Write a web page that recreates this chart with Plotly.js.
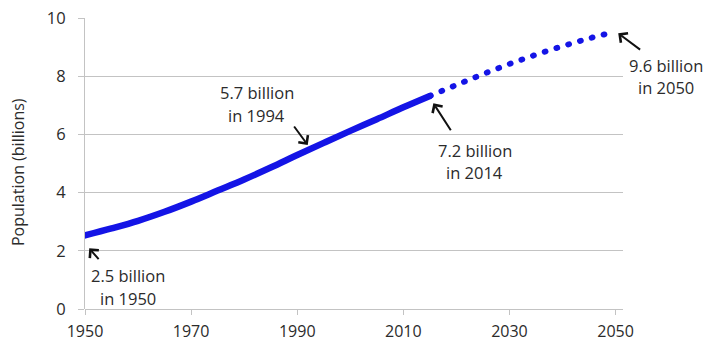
<!DOCTYPE html>
<html>
<head>
<meta charset="utf-8">
<script src="https://cdn.plot.ly/plotly-3.0.1.min.js"></script>
<style>
  html, body { margin: 0; padding: 0; background: #fff; }
  #chart { width: 710px; height: 341px; }
  .scatterlayer .js-line { stroke-linecap: round; }
</style>
</head>
<body>
<div id="chart"></div>
<script>
// Estimated world population (billions)
var historyYears = [1950, 1955, 1960, 1965, 1970, 1975, 1980, 1985, 1990, 1995, 2000, 2005, 2010, 2015];
var historyPop   = [2.53, 2.77, 3.03, 3.34, 3.69, 4.07, 4.45, 4.86, 5.29, 5.71, 6.12, 6.52, 6.93, 7.32];
// Projection (billions)
var projYears = [2015, 2020, 2025, 2030, 2035, 2040, 2045, 2050];
var projPop   = [7.32, 7.70, 8.07, 8.42, 8.74, 9.03, 9.30, 9.53];

var xTicks = [1950, 1970, 1990, 2010, 2030, 2050];
var yTicks = [0, 2, 4, 6, 8, 10];

var yTitle = 'Population (billions)';
var calloutLines = [
  ["2.5 billion", "in 1950"],
  ["5.7 billion", "in 1994"],
  ["7.2 billion", "in 2014"],
  ["9.6 billion", "in 2050"]
];

// callout layout: text centre (paper x), line centres (data y), arrow head (data), tail offset (px)
var calloutLayout = [
  {tx: 0.0799, ty: [1.168, 0.378], hx: 1950.8, hy: 2.086, ax: 10.7, ay: 12.4},
  {tx: 0.3197, ty: [7.457, 6.643], hx: 1991.98, hy: 5.636, ax: -14.7, ay: -20},
  {tx: 0.7249, ty: [5.464, 4.708], hx: 2015.66, hy: 7.069, ax: 18.4, ay: 28.4},
  {tx: 1.0799, ty: [8.385, 7.595], hx: 2050.5, hy: 9.474, ax: 23.4, ay: 17.4}
];

var FONT = "'Open Sans', 'Noto Sans', sans-serif";
var TXT = "#2b2b2b";
var BLUE = "#1414E6";
var GRID = "#c3c3c3";

var annotations = [];
calloutLines.forEach(function (lines, i) {
  var L = calloutLayout[i];
  lines.forEach(function (t, j) {
    annotations.push({
      x: L.tx, y: L.ty[j], xref: 'paper', yref: 'y', text: t, showarrow: false,
      xanchor: 'center', yanchor: 'middle',
      font: {family: FONT, size: 16.5, color: TXT}
    });
  });
  annotations.push({
    x: L.hx, y: L.hy, xref: 'x', yref: 'y', text: '', showarrow: true,
    ax: L.ax, ay: L.ay, arrowhead: 4, arrowsize: 1.15, arrowwidth: 2, arrowcolor: '#111111'
  });
});
annotations.push({
  x: -0.1245, y: 0.4708, xref: 'paper', yref: 'paper', text: yTitle, showarrow: false,
  textangle: -90, xanchor: 'center', yanchor: 'middle',
  font: {family: FONT, size: 16, color: TXT}
});

var traces = [
  {
    x: historyYears, y: historyPop, type: 'scatter', mode: 'lines',
    line: {color: BLUE, width: 6.5, shape: 'spline', smoothing: 1},
    hoverinfo: 'skip', showlegend: false
  },
  {
    x: projYears, y: projPop, type: 'scatter', mode: 'lines',
    line: {color: BLUE, width: 5.8, dash: '1px,11.3px', shape: 'spline', smoothing: 1},
    hoverinfo: 'skip', showlegend: false
  }
];

var layout = {
  width: 710, height: 341,
  margin: {l: 85, r: 87, t: 18, b: 32, pad: 0},
  paper_bgcolor: '#fff', plot_bgcolor: '#fff',
  font: {family: FONT, size: 16, color: TXT},
  xaxis: {
    range: [1950, 2051.4], tickvals: xTicks, ticktext: xTicks.map(String),
    showgrid: false, zeroline: false, showline: false,
    ticks: 'outside', ticklen: 5, tickwidth: 1, tickcolor: GRID,
    ticklabelstandoff: 3,
    tickfont: {family: FONT, size: 16, color: TXT}, fixedrange: true
  },
  yaxis: {
    range: [0, 10], tickvals: yTicks, ticktext: yTicks.map(String),
    showgrid: true, gridcolor: GRID, gridwidth: 1,
    zeroline: true, zerolinecolor: GRID, zerolinewidth: 1,
    showline: true, linecolor: GRID, linewidth: 1,
    ticks: 'outside', ticklen: 6, tickwidth: 1, tickcolor: GRID,
    ticklabelstandoff: 9,
    tickfont: {family: FONT, size: 16.5, color: TXT},
    fixedrange: true
  },
  annotations: annotations
};

Plotly.newPlot('chart', traces, layout, {displayModeBar: false, staticPlot: true});
</script>
</body>
</html>
